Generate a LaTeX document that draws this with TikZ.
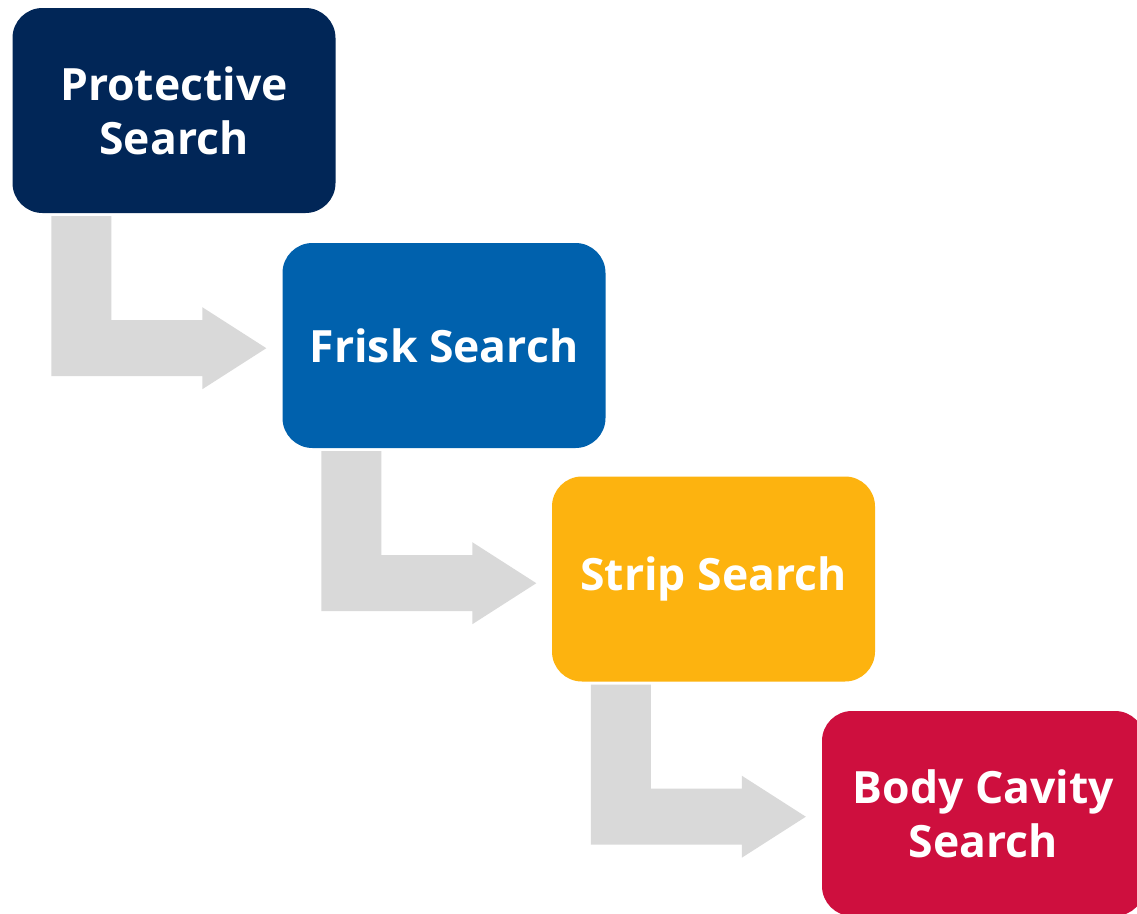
\documentclass[tikz,border=0pt]{standalone}
\usepackage{fontspec}
\setmainfont{Open Sans}
\usetikzlibrary{calc}
\definecolor{navy}{HTML}{012657}
\definecolor{bluebox}{HTML}{0061AD}
\definecolor{amber}{HTML}{FDB30F}
\definecolor{crimson}{HTML}{CE0F3E}
\definecolor{arrowgray}{HTML}{D9D9D9}
\tikzset{
  stepbox/.style={rounded corners=30pt, minimum width=323pt, minimum height=205pt,
    text=white, align=center, inner sep=0pt,
    font=\bfseries\fontsize{44.5}{54}\selectfont},
  bentarrow/.pic={
    \fill[arrowgray] (0,0) -- (60,0) -- (60,104) -- (151,104) -- (151,91) -- (215,132)
      -- (151,173) -- (151,160) -- (0,160) -- cycle;
  }
}
\begin{document}
\begin{tikzpicture}[x=1pt,y=-1pt]
\clip (0,0) rectangle (1137,913);
\fill[white] (0,0) rectangle (1137,913);
\node[stepbox, fill=navy] (p) at (174,110.5) {Protective\\Search};
\node[stepbox, fill=bluebox] (f) at (444,345.5) {Frisk Search};
\node[stepbox, fill=amber] (s) at (713.5,579) {Strip Search};
\node[stepbox, fill=crimson] (b) at (983.5,813.5) {Body Cavity\\Search};
\coordinate (a1) at ($(p.south west)+(39,3)$);
\coordinate (a2) at ($(f.south west)+(39,3)$);
\coordinate (a3) at ($(s.south west)+(39,3)$);
\pic at (a1) {bentarrow};
\pic at (a2) {bentarrow};
\pic at (a3) {bentarrow};
\end{tikzpicture}
\end{document}
